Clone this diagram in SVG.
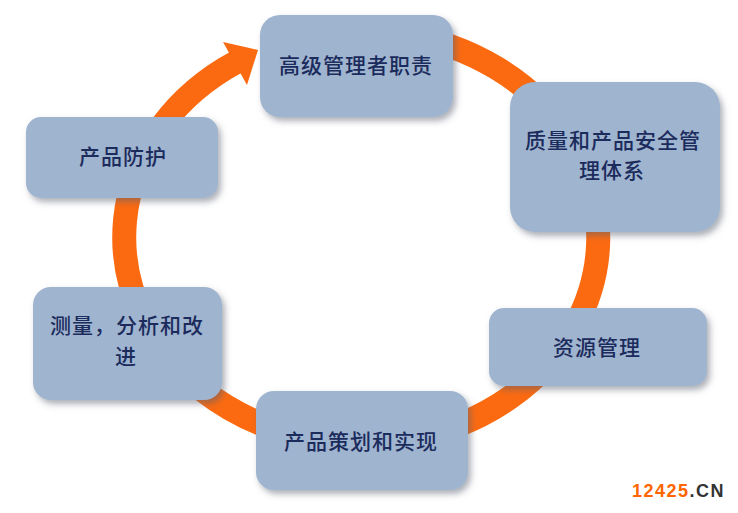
<svg xmlns="http://www.w3.org/2000/svg" width="738" height="513" viewBox="0 0 738 513">
  <defs>
    <filter id="shadow" x="-10%" y="-10%" width="125%" height="130%">
      <feDropShadow dx="3" dy="4" stdDeviation="3" flood-color="#5a6070" flood-opacity="0.5"/>
    </filter>
    <style>
      .box { fill: #9fb4cf; filter: url(#shadow); }
      .lbl { font-family: "Noto Sans CJK SC", "Noto Sans CJK TC", sans-serif; font-size: 21px; font-weight: 500; fill: #1b2b5c; text-anchor: middle; letter-spacing: 1px; }
      .ring { fill: none; stroke: #fb6a10; stroke-width: 24; }
      .head { fill: #fb6a10; }
    </style>
  </defs>
  <rect width="738" height="513" fill="#ffffff"/>

  <g id="connectors">
    <path class="ring" d="M 401.1 34.1 A 237 206 0 1 1 235.6 62.5"/>
    <polygon class="head" points="223,42 258,50 247,85"/>
  </g>

  <g id="node-senior">
    <rect class="box" x="260" y="15" width="193" height="102" rx="20"/>
    <text class="lbl" x="356" y="73">高级管理者职责</text>
  </g>

  <g id="node-qms">
    <rect class="box" x="510" y="82" width="210" height="150" rx="25"/>
    <text class="lbl" x="613" y="148">质量和产品安全管</text>
    <text class="lbl" x="612" y="178">理体系</text>
  </g>

  <g id="node-resource">
    <rect class="box" x="489" y="308" width="218" height="78" rx="15"/>
    <text class="lbl" x="597" y="355">资源管理</text>
  </g>

  <g id="node-product">
    <rect class="box" x="256" y="391" width="212" height="99" rx="18"/>
    <text class="lbl" x="361" y="449">产品策划和实现</text>
  </g>

  <g id="node-measure">
    <rect class="box" x="33" y="287" width="189" height="113" rx="18"/>
    <text class="lbl" x="127" y="333">测量，分析和改</text>
    <text class="lbl" x="126" y="364">进</text>
  </g>

  <g id="node-protect">
    <rect class="box" x="26" y="117" width="192" height="81" rx="15"/>
    <text class="lbl" x="123" y="164">产品防护</text>
  </g>

  <g id="watermark">
    <text x="632" y="497" font-family="Liberation Sans, Arial, sans-serif" font-size="18" font-weight="bold" letter-spacing="1.5"><tspan fill="#ff6600">12425</tspan><tspan fill="#333333">.CN</tspan></text>
  </g>
</svg>
